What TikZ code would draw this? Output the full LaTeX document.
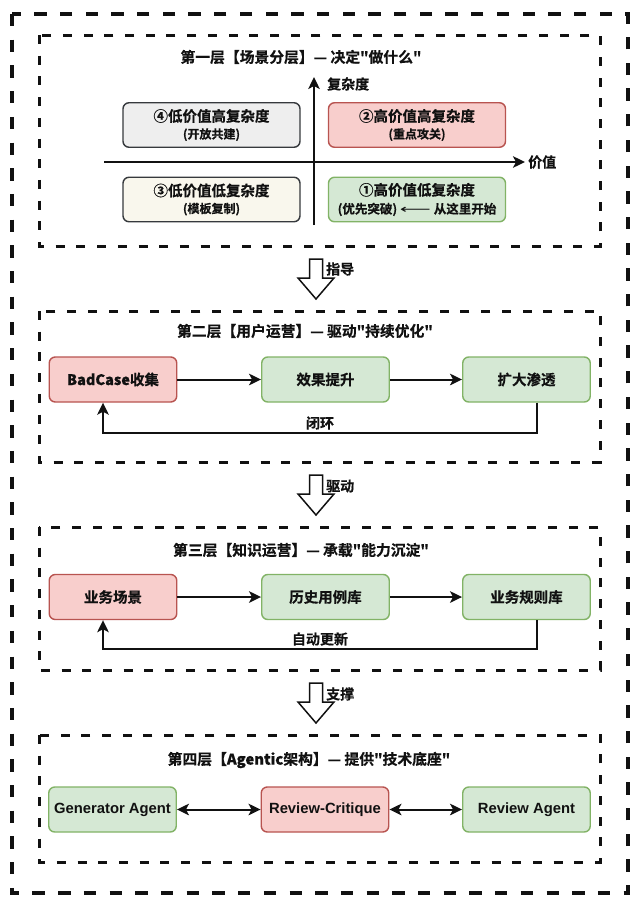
\documentclass[tikz,border=0pt]{standalone}
\usepackage{fontspec}
\usepackage{graphicx}
\setmainfont{Liberation Sans}
\newfontfamily\cjk{Noto Sans CJK SC Bold}[FakeBold=0.5]
\newfontfamily\djv{DejaVu Sans}
\usetikzlibrary{arrows.meta}
\definecolor{redfill}{HTML}{F8CECC}
\definecolor{redline}{HTML}{B85450}
\definecolor{grnfill}{HTML}{D5E8D4}
\definecolor{grnline}{HTML}{82B366}
\definecolor{grayfill}{HTML}{EEEEEE}
\definecolor{darkline}{HTML}{36393D}
\definecolor{creamfill}{HTML}{F9F7ED}
\definecolor{ink}{HTML}{111111}
\newcommand{\lt}[1]{{\bfseries #1}}
\newcommand{\fsz}[1]{\fontsize{#1}{#1}\selectfont}
\tikzset{
  outerframe/.style={draw=ink, line width=3.6pt, dash pattern=on 12.3pt off 13.4pt},
  layerframe/.style={draw=ink, line width=3pt, dash pattern=on 9pt off 11.7pt},
  quad/.style={draw, rounded corners=6pt, line width=1.4pt, minimum width=177pt,
    minimum height=44.5pt, inner sep=0pt, align=center, text=ink},
  flowbox/.style={draw, rounded corners=6pt, line width=1.4pt, minimum width=127.5pt,
    minimum height=45pt, inner sep=0pt, text=ink, font=\cjk\fsz{14.5}},
  redbox/.style={flowbox, fill=redfill, draw=redline},
  grnbox/.style={flowbox, fill=grnfill, draw=grnline},
  ttl/.style={text=ink, font=\cjk\fsz{14.8}, inner sep=0pt},
  lbl/.style={text=ink, font=\cjk\fsz{14}, inner sep=0pt},
  tip/.tip={Stealth[length=12pt,width=11.5pt,inset=3pt]},
  flow/.style={draw=ink, line width=2pt, -tip},
  biflow/.style={draw=ink, line width=2pt, tip-tip},
  axis/.style={draw=ink, line width=2pt, -tip},
  hollow/.pic={\draw[ink, line width=1.5pt, fill=white, line join=miter]
    (-6.5,0) -- (6.5,0) -- (6.5,19) -- (18,19) -- (0,40) -- (-18,19) -- (-6.5,19) -- cycle;}
}
\begin{document}
\begin{tikzpicture}[x=1pt,y=-1pt]
\useasboundingbox[fill=white] (0,0) rectangle (640,908);
% frames
\draw[outerframe] (12,14) rectangle (628,893);
\draw[layerframe] (39,35) rectangle (600,246);
\draw[layerframe] (39,311) rectangle (600,462);
\draw[layerframe] (39,527) rectangle (600,670);
\draw[layerframe] (39,735) rectangle (600,862);

% ---------- layer 1 ----------
\node[ttl] (t1) at (301,57) {第一层【场景分层】— 决定"做什么"};
\coordinate (vb) at (314,225);
\coordinate (vt) at (314,77);
\coordinate (hl) at (104,162);
\coordinate (hr) at (525,162);
\draw[axis] (vb) -- (vt);
\draw[axis] (hl) -- (hr);
\node[lbl, anchor=west] (ylab) at (327,84) {复杂度};
\node[lbl, anchor=west] (xlab) at (528,162) {价值};

\node[quad, fill=grayfill, draw=darkline] (q4) at (211.5,125)
  {\cjk\fsz{14.5}④低价值高复杂度\\[5pt]\cjk\fsz{12}(开放共建)};
\node[quad, fill=redfill, draw=redline] (q2) at (417,125)
  {\cjk\fsz{14.5}②高价值高复杂度\\[5pt]\cjk\fsz{12}(重点攻关)};
\node[quad, fill=creamfill, draw=darkline] (q3) at (211.5,199.5)
  {\cjk\fsz{14.5}③低价值低复杂度\\[5pt]\cjk\fsz{12}(模板复制)};
\node[quad, fill=grnfill, draw=grnline] (q1) at (417,199.5)
  {\cjk\fsz{14.5}①高价值低复杂度\\[5pt]\cjk\fsz{12.5}(优先突破) \raisebox{0.5pt}{\scalebox{1.8}[1]{\djv\fsz{12}⟵}} 从这里开始};

% ---------- arrow 1 ----------
\pic at (316,259) {hollow};
\node[lbl, anchor=west] (a1) at (326,269) {指导};

% ---------- layer 2 ----------
\node[ttl] (t2) at (305,331) {第二层【用户运营】— 驱动"持续优化"};
\node[redbox] (b1) at (113,379.5) {\lt{BadCase}收集};
\node[grnbox] (b2) at (325.5,379.5) {效果提升};
\node[grnbox] (b3) at (526.5,379.5) {扩大渗透};
\draw[flow] (b1) -- (b2);
\draw[flow] (b2) -- (b3);
\draw[flow] ([xshift=10.5pt]b3.south) -- ++(0,30) -| ([xshift=-10pt]b1.south);
\node[lbl] (fb1) at (320,423) {闭环};

% ---------- arrow 2 ----------
\pic at (316,475) {hollow};
\node[lbl, anchor=west] (a2) at (326,486) {驱动};

% ---------- layer 3 ----------
\node[ttl] (t3) at (301,550) {第三层【知识运营】— 承载"能力沉淀"};
\node[redbox] (c1) at (113,597) {业务场景};
\node[grnbox] (c2) at (325.5,597) {历史用例库};
\node[grnbox] (c3) at (526.5,597) {业务规则库};
\draw[flow] (c1) -- (c2);
\draw[flow] (c2) -- (c3);
\draw[flow] ([xshift=10.5pt]c3.south) -- ++(0,29) -| ([xshift=-10pt]c1.south);
\node[lbl] (fb2) at (320,639) {自动更新};

% ---------- arrow 3 ----------
\pic at (316,683) {hollow};
\node[lbl, anchor=west] (a3) at (326,694) {支撑};

% ---------- layer 4 ----------
\node[ttl] (t4) at (309,760) {第四层【\lt{Agentic}架构】— 提供"技术底座"};
\node[grnbox, font=\bfseries\fsz{14.8}] (d1) at (112.5,809.5) {Generator Agent};
\node[redbox, font=\bfseries\fsz{14.8}] (d2) at (325,809.5) {Review-Critique};
\node[grnbox, font=\bfseries\fsz{14.8}] (d3) at (526.5,809.5) {Review Agent};
\draw[biflow] (d1) -- (d2);
\draw[biflow] (d2) -- (d3);
\end{tikzpicture}
\end{document}
